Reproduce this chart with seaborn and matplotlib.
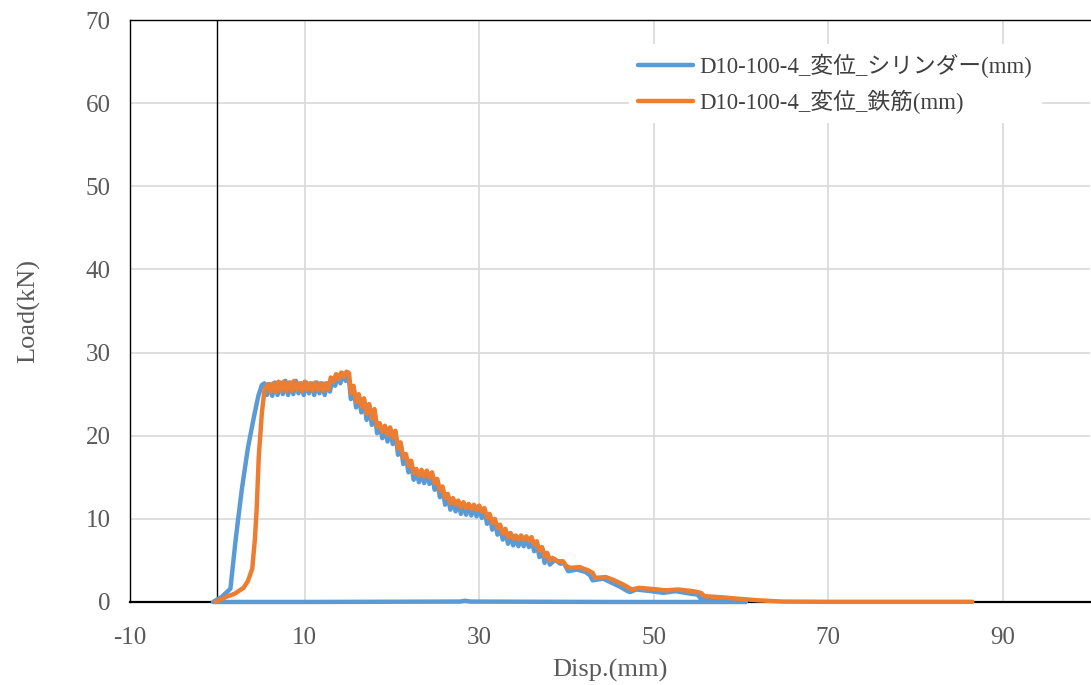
import matplotlib
matplotlib.use("Agg")
import matplotlib.pyplot as plt
import seaborn as sns
import pandas as pd
import numpy as np

# 読み取った荷重-変位データ
# シリンダー変位 (戻り線 → 立ち上がり → 下降)
cyl_x = [60.5, 45.0, 29.0, 28.4, 27.8, 10.0, 0.0, -0.5,
         0.5, 1.5, 2.1, 2.8, 3.5, 4.2, 4.7, 5.1, 5.4,
         5.7, 6.0, 6.3, 6.6, 6.9, 7.2, 7.5, 7.8, 8.1, 8.4, 8.7, 9.0, 9.3, 9.6,
         9.9, 10.2, 10.5, 10.8, 11.1, 11.4, 11.7, 12.0, 12.3, 12.6, 12.9, 13.2,
         13.5, 13.8, 14.1, 14.4, 14.7,
         15.0, 15.3, 15.6, 15.9, 16.2, 16.5, 16.8, 17.1, 17.4, 17.7, 18.0, 18.3,
         18.6, 18.9, 19.2, 19.5, 19.8, 20.1, 20.4, 20.7, 21.0, 21.3, 21.6, 21.9,
         22.2, 22.5, 22.8, 23.1, 23.4, 23.7, 24.0, 24.3, 24.6, 24.9, 25.2, 25.5,
         25.8, 26.1, 26.4, 26.7, 27.0, 27.3, 27.6, 27.9, 28.2, 28.5, 28.8, 29.1,
         29.4, 29.7, 30.0, 30.3, 30.6, 30.9, 31.2, 31.5, 31.8, 32.1, 32.4, 32.7,
         33.0, 33.3, 33.6, 33.9, 34.2, 34.5, 34.8, 35.1, 35.4, 35.7, 36.0, 36.3,
         36.6, 36.9, 37.2, 37.5, 37.8, 38.1, 38.7, 39.3, 39.7, 40.2, 41.2, 42.2,
         42.7, 43.0, 44.2, 45.2, 46.2, 47.0, 47.3, 48.0, 49.7, 51.1, 52.5, 54.2,
         55.0, 55.4, 57.5, 59.5, 60.5]
cyl_y = [0.0, 0.0, 0.05, 0.15, 0.05, 0.0, 0.0, 0.0,
         0.6, 1.6, 7.5, 13.5, 18.5, 22.3, 24.8, 26.1, 26.3,
         24.9, 26.2, 24.8, 26.4, 24.9, 26.4, 25.0, 26.6, 24.9, 26.4, 25.0, 26.6, 25.1, 26.3,
         24.9, 26.4, 25.1, 26.3, 24.9, 26.4, 25.1, 26.3, 24.9, 26.3, 25.3, 26.9,
         26.0, 27.3, 26.3, 27.5, 26.6,
         27.6, 24.4, 25.8, 23.4, 24.8, 22.8, 24.3, 21.9, 23.6, 21.3, 23.0, 20.3,
         21.3, 19.7, 21.0, 19.3, 20.8, 19.0, 20.4, 17.7, 19.0, 16.6, 17.6, 15.6,
         16.8, 14.7, 15.8, 14.4, 15.7, 14.3, 15.6, 14.2, 15.4, 13.5, 14.6, 12.6,
         13.7, 11.7, 12.8, 11.1, 12.3, 10.9, 12.0, 10.6, 11.8, 10.5, 11.6, 10.4,
         11.5, 10.3, 11.4, 10.1, 11.1, 9.4, 10.4, 8.7, 9.8, 8.1, 9.1, 7.5,
         8.6, 7.0, 8.1, 6.8, 7.8, 6.7, 7.8, 6.7, 7.7, 6.6, 7.6, 6.1,
         7.1, 5.4, 6.4, 4.7, 5.7, 4.5, 5.1, 4.6, 4.7, 3.7, 3.9, 3.6,
         3.2, 2.6, 2.8, 2.3, 1.8, 1.3, 1.2, 1.5, 1.3, 1.1, 1.3, 1.0,
         0.9, 0.4, 0.3, 0.15, 0.0]

# 鉄筋変位
bar_x = [-0.2, 1.0, 2.0, 3.0, 3.5, 4.0, 4.3, 4.5, 4.75, 5.1, 5.4, 5.8,
         6.1, 6.4, 6.7, 7.0, 7.3, 7.6, 7.9, 8.2, 8.5, 8.8, 9.1, 9.4, 9.7,
         10.0, 10.3, 10.6, 10.9, 11.2, 11.5, 11.8, 12.1, 12.4, 12.7, 13.0, 13.3,
         13.6, 13.9, 14.2, 14.5, 14.8, 15.1,
         15.3, 15.6, 15.9, 16.2, 16.5, 16.8, 17.1, 17.4, 17.7, 18.0, 18.3, 18.6,
         18.9, 19.2, 19.5, 19.8, 20.1, 20.4, 20.7, 21.0, 21.3, 21.6, 21.9, 22.2,
         22.5, 22.8, 23.1, 23.4, 23.7, 24.0, 24.3, 24.6, 24.9, 25.2, 25.5, 25.8,
         26.1, 26.4, 26.7, 27.0, 27.3, 27.6, 27.9, 28.2, 28.5, 28.8, 29.1, 29.4,
         29.7, 30.0, 30.3, 30.6, 30.9, 31.2, 31.5, 31.8, 32.1, 32.4, 32.7, 33.0,
         33.3, 33.6, 33.9, 34.2, 34.5, 34.8, 35.1, 35.4, 35.7, 36.0, 36.3, 36.6,
         36.9, 37.2, 37.5, 37.8, 38.1, 38.4, 39.0, 39.6, 40.0, 40.5, 41.5, 42.5,
         43.0, 43.3, 44.5, 45.5, 46.5, 47.5, 48.3, 50.0, 51.4, 52.8, 54.5, 55.4,
         55.8, 58.0, 60.1, 62.0, 64.7, 70.0, 80.0, 86.5]
bar_y = [0.0, 0.6, 1.0, 1.7, 2.5, 4.0, 7.5, 11.0, 17.5, 22.7, 25.5, 26.2,
         25.3, 26.3, 25.3, 26.5, 25.4, 26.5, 25.4, 26.4, 25.4, 26.6, 25.5, 26.3, 25.4,
         26.5, 25.5, 26.3, 25.4, 26.4, 25.5, 26.3, 25.4, 26.3, 25.5, 27.0, 26.5,
         27.4, 26.8, 27.6, 27.1, 27.7, 27.5,
         25.1, 26.0, 24.1, 25.0, 23.5, 24.5, 22.7, 23.8, 22.1, 23.2, 21.1, 21.5,
         20.5, 21.2, 20.1, 21.0, 19.8, 20.6, 18.5, 19.2, 17.4, 17.8, 16.4, 17.0,
         15.5, 16.0, 15.2, 15.9, 15.1, 15.8, 15.0, 15.6, 14.3, 14.8, 13.4, 13.9,
         12.5, 13.0, 11.9, 12.5, 11.7, 12.2, 11.4, 12.0, 11.3, 11.8, 11.2, 11.7,
         11.1, 11.6, 10.9, 11.3, 10.2, 10.6, 9.5, 10.0, 8.9, 9.3, 8.3, 8.8,
         7.8, 8.3, 7.6, 8.0, 7.5, 8.0, 7.5, 7.9, 7.4, 7.8, 6.9, 7.3,
         6.2, 6.6, 5.5, 5.9, 5.0, 5.3, 4.9, 4.9, 4.3, 4.1, 4.2, 3.8,
         3.5, 2.9, 3.0, 2.6, 2.1, 1.5, 1.7, 1.55, 1.4, 1.5, 1.3, 1.1,
         0.7, 0.55, 0.35, 0.2, 0.05, 0.02, 0.02, 0.02]

labels = ["D10-100-4_変位_シリンダー(mm)", "D10-100-4_変位_鉄筋(mm)"]
x_ticks = [-10, 10, 30, 50, 70, 90]
y_ticks = [0, 10, 20, 30, 40, 50, 60, 70]

sns.set_theme(style="white")
plt.rcParams['font.family'] = ['Liberation Serif', 'Noto Sans CJK JP', 'DejaVu Sans']
plt.rcParams['axes.unicode_minus'] = False

fig = plt.figure(figsize=(10.91, 6.85), dpi=100)
ax = fig.add_axes([0.1192, 0.1212, 0.8800, 0.8496])

sns.lineplot(x=cyl_x, y=cyl_y, sort=False, estimator=None, ax=ax,
             color="#5B9BD5", lw=3.2, label=labels[0], zorder=3, clip_on=False)
sns.lineplot(x=bar_x, y=bar_y, sort=False, estimator=None, ax=ax,
             color="#ED7D31", lw=3.2, label=labels[1], zorder=3, clip_on=False)

ax.set_xlim(-10, 100)
ax.set_ylim(0, 70)
ax.set_xticks(x_ticks)
ax.set_yticks(y_ticks)
ax.grid(True, color="#D9D9D9", lw=1.2)
ax.set_axisbelow(True)

# Excel風の軸 (x=0 で縦軸が交差)
ax.axvline(0, color="black", lw=1.0, zorder=1.5)
for side in ["left", "top", "bottom"]:
    ax.spines[side].set_color("black")
    ax.spines[side].set_linewidth(1.0)
    ax.spines[side].set_zorder(2)
ax.spines["bottom"].set_linewidth(1.6)
ax.spines["right"].set_visible(False)

ax.tick_params(axis="x", labelsize=18, labelcolor="#595959", length=0, pad=18)
ax.tick_params(axis="y", labelsize=18, labelcolor="#595959", length=0, pad=14)
ax.set_xlabel("Disp.(mm)", fontsize=19, color="#595959", labelpad=7)
ax.set_ylabel("Load(kN)", fontsize=19, color="#595959", labelpad=33)

leg = ax.legend(loc="upper left", bbox_to_anchor=(0.508, 0.978), fontsize=16.4,
                frameon=True, facecolor="white", edgecolor="none", framealpha=1,
                handlelength=2.4, handletextpad=0.3, labelspacing=0.55,
                borderpad=0.4, fancybox=False)
for t in leg.get_texts():
    t.set_color("#404040")

fig.savefig("out.png", dpi=100)
